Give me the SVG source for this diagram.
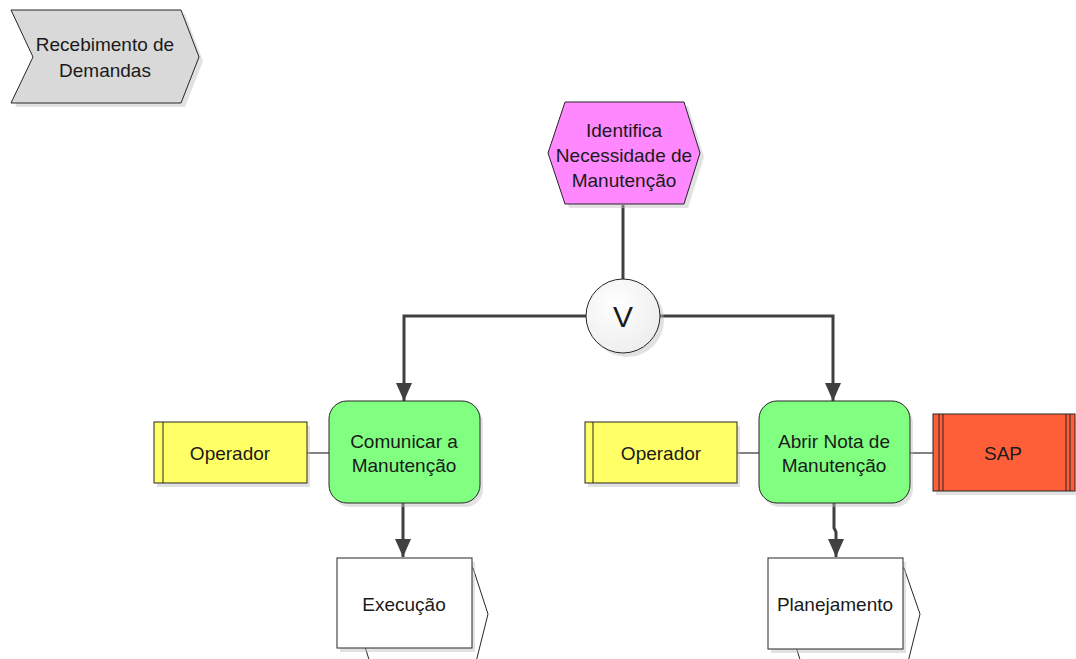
<svg xmlns="http://www.w3.org/2000/svg" width="1076" height="659" viewBox="0 0 1076 659">
  <style>
    .lbl { font-family: "Liberation Sans", Arial, sans-serif; font-size: 19px; fill: #1a1a1a; text-anchor: middle; }
    .edge { stroke: #404040; stroke-width: 3; fill: none; }
    .assoc { stroke: #595959; stroke-width: 1.5; fill: none; }
    .shadow { fill: #bfbfbf; opacity: 0.45; }
    .outline { stroke: #262626; stroke-width: 1; }
  </style>
  <defs>
    <marker id="arrow" viewBox="0 0 18 16" refX="18" refY="8" markerWidth="18" markerHeight="16" markerUnits="userSpaceOnUse" orient="auto">
      <path d="M0,0 L18,8 L0,16 z" fill="#404040"/>
    </marker>
    <radialGradient id="gateFill" cx="0.4" cy="0.35" r="0.75">
      <stop offset="0" stop-color="#ffffff"/>
      <stop offset="1" stop-color="#ececec"/>
    </radialGradient>
  </defs>

  <rect width="1076" height="659" fill="#ffffff"/>

  <!-- connectors -->
  <g id="connectors">
    <path class="edge" d="M623,205 L623,279"/>
    <path class="edge" d="M586,316 L404,316 L404,401" marker-end="url(#arrow)"/>
    <path class="edge" d="M660,316 L833,316 L833,401" marker-end="url(#arrow)"/>
    <path class="edge" d="M403,503 L403,557" marker-end="url(#arrow)"/>
    <path class="edge" d="M834,503 L834,528 L836,532 L836,557" marker-end="url(#arrow)"/>
    <path class="assoc" d="M307,453 L329,453"/>
    <path class="assoc" d="M737,453 L759,453"/>
    <path class="assoc" d="M910,453 L933,453"/>
  </g>

  <!-- process interface: Recebimento de Demandas -->
  <g id="recebimento">
    <polygon class="shadow" points="15,14 185,14 203,61 185,107 15,107 37,61"/>
    <polygon class="outline" fill="#d9d9d9" points="11,10 181,10 199,57 181,103 11,103 33,57"/>
    <text class="lbl" x="105" y="51">Recebimento de</text>
    <text class="lbl" x="105" y="77">Demandas</text>
  </g>

  <!-- event: Identifica Necessidade de Manutencao -->
  <g id="identifica">
    <polygon class="shadow" points="569,106 688,106 704,157 688,208 569,208 552,157"/>
    <polygon class="outline" fill="#ff88ff" points="565,102 684,102 700,153 684,204 565,204 548,153"/>
    <text class="lbl" x="624" y="137">Identifica</text>
    <text class="lbl" x="624" y="162">Necessidade de</text>
    <text class="lbl" x="624" y="187">Manutenção</text>
  </g>

  <!-- OR connector -->
  <g id="gate-or">
    <circle class="shadow" cx="627" cy="320" r="37"/>
    <circle class="outline" fill="url(#gateFill)" cx="623" cy="316" r="37"/>
    <text x="623" y="327" font-family="Liberation Sans, Arial, sans-serif" font-size="30" fill="#1a1a1a" text-anchor="middle">V</text>
  </g>

  <!-- role: Operador (left) -->
  <g id="operador-1">
    <rect class="shadow" x="157" y="426" width="153" height="61"/>
    <rect class="outline" fill="#ffff66" x="154" y="422" width="153" height="61"/>
    <line class="outline" x1="163" y1="422" x2="163" y2="483"/>
    <text class="lbl" x="230" y="460">Operador</text>
  </g>

  <!-- function: Comunicar a Manutencao -->
  <g id="comunicar">
    <rect class="shadow" x="332" y="405" width="151" height="102" rx="18"/>
    <rect class="outline" fill="#80ff80" x="329" y="401" width="151" height="102" rx="18"/>
    <text class="lbl" x="404" y="448">Comunicar a</text>
    <text class="lbl" x="404" y="472">Manutenção</text>
  </g>

  <!-- role: Operador (right) -->
  <g id="operador-2">
    <rect class="shadow" x="588" y="426" width="152" height="61"/>
    <rect class="outline" fill="#ffff66" x="585" y="422" width="152" height="61"/>
    <line class="outline" x1="593" y1="422" x2="593" y2="483"/>
    <text class="lbl" x="661" y="460">Operador</text>
  </g>

  <!-- function: Abrir Nota de Manutencao -->
  <g id="abrir-nota">
    <rect class="shadow" x="762" y="405" width="151" height="102" rx="18"/>
    <rect class="outline" fill="#80ff80" x="759" y="401" width="151" height="102" rx="18"/>
    <text class="lbl" x="834" y="448">Abrir Nota de</text>
    <text class="lbl" x="834" y="472">Manutenção</text>
  </g>

  <!-- application system: SAP -->
  <g id="sap">
    <rect class="shadow" x="936" y="418" width="142" height="77"/>
    <rect class="outline" fill="#ff5f38" x="933" y="414" width="142" height="77"/>
    <line class="outline" x1="939" y1="414" x2="939" y2="491"/>
    <line class="outline" x1="943" y1="414" x2="943" y2="491"/>
    <line class="outline" x1="1066" y1="414" x2="1066" y2="491"/>
    <line class="outline" x1="1070" y1="414" x2="1070" y2="491"/>
    <text class="lbl" x="1003" y="460">SAP</text>
  </g>

  <!-- process interface: Execucao -->
  <g id="execucao">
    <polygon class="outline" fill="#ffffff" points="352,568 473,568 488,614 475,666 371,666 362,637"/>
    <rect class="shadow" x="340" y="562" width="135" height="90"/>
    <rect class="outline" fill="#ffffff" x="337" y="558" width="135" height="90"/>
    <text class="lbl" x="404" y="611">Execução</text>
  </g>

  <!-- process interface: Planejamento -->
  <g id="planejamento">
    <polygon class="outline" fill="#ffffff" points="783,568 904,568 920,614 907,666 802,666 793,637"/>
    <rect class="shadow" x="771" y="562" width="135" height="91"/>
    <rect class="outline" fill="#ffffff" x="768" y="558" width="135" height="91"/>
    <text class="lbl" x="835" y="611">Planejamento</text>
  </g>
</svg>
